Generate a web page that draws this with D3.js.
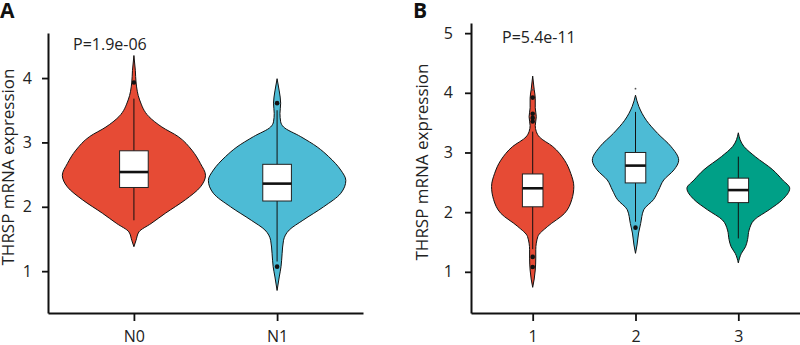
<!DOCTYPE html>
<html>
<head>
<meta charset="utf-8">
<script src="https://cdn.jsdelivr.net/npm/d3@7"></script>
<style>
  body { margin: 0; background: #fff; }
  text { font-family: "Open Sans", sans-serif; fill: #222; }
</style>
</head>
<body>
<div id="chart"></div>
<script>
// ---- data ----
const groupsA = ["N0", "N1"];
const groupsB = ["1", "2", "3"];
const ticksA = [1, 2, 3, 4];
const ticksB = [1, 2, 3, 4, 5];
const pvalA = "P=1.9e-06";
const pvalB = "P=5.4e-11";
const colorsA = ["#E64B35", "#4DBBD5"];
const colorsB = ["#E64B35", "#4DBBD5", "#00A087"];

// violin outlines: [expression, relative density]
const densN0 = [[4.35,0],[4.12,0.02],[3.93,0.03],[3.66,0.08],[3.40,0.21],[3.24,0.39],[3.09,0.62],[2.88,0.81],[2.67,0.93],[2.49,1.0],[2.31,0.93],[2.11,0.72],[1.90,0.44],[1.74,0.24],[1.61,0.07],[1.48,0.03],[1.38,0]];
const densN1 = [[3.99,0],[3.80,0.03],[3.61,0.05],[3.45,0.04],[3.32,0.05],[3.24,0.09],[3.09,0.33],[2.93,0.56],[2.78,0.72],[2.57,0.89],[2.41,0.96],[2.21,0.89],[2.00,0.65],[1.79,0.36],[1.64,0.17],[1.48,0.09],[1.27,0.07],[1.07,0.055],[0.91,0.03],[0.70,0]];
const densB1 = [[4.28,0],[4.05,0.03],[3.91,0.05],[3.75,0.05],[3.60,0.07],[3.45,0.05],[3.35,0.07],[3.26,0.13],[3.10,0.39],[2.87,0.62],[2.65,0.74],[2.43,0.80],[2.21,0.76],[1.98,0.62],[1.76,0.29],[1.59,0.10],[1.37,0.06],[1.23,0.06],[1.03,0.05],[0.88,0.03],[0.74,0]];
const densB2 = [[3.96,0],[3.77,0.065],[3.54,0.21],[3.32,0.43],[3.10,0.69],[2.87,0.84],[2.71,0.75],[2.54,0.55],[2.37,0.45],[2.21,0.35],[2.04,0.16],[1.81,0.10],[1.65,0.06],[1.45,0.03],[1.31,0]];
const densB3 = [[3.33,0],[3.10,0.11],[2.93,0.33],[2.71,0.67],[2.54,0.86],[2.40,1.0],[2.21,0.86],[2.04,0.60],[1.87,0.31],[1.70,0.21],[1.54,0.18],[1.42,0.14],[1.31,0.06],[1.15,0]];

// box stats: [lower whisker, q1, median, q3, upper whisker]
const boxN0 = [1.79, 2.30, 2.54, 2.87, 3.68];
const boxN1 = [1.15, 2.09, 2.36, 2.66, 3.50];
const boxB1 = [1.38, 2.09, 2.40, 2.64, 3.35];
const boxB2 = [1.84, 2.49, 2.78, 3.00, 3.68];
const boxB3 = [1.56, 2.16, 2.37, 2.57, 2.93];

// outlier points
const outN0 = [3.93];
const outN1 = [3.61, 1.07];
const outB1 = [3.92, 3.65, 3.58, 3.52, 1.25, 1.08];
const outB2 = [1.74];
const outB3 = [];
// faint single outliers at the violin tips
const faintB1 = [4.05];
const faintB2 = [4.07];

const W = 800, H = 345;
const svg = d3.select("#chart").append("svg")
    .attr("width", W)
    .attr("height", H);

function drawPanel(opt) {
    const g = svg.append("g");

    const x = d3.scalePoint()
        .domain(opt.groups)
        .range([opt.left, opt.right])
        .padding(0.6);

    const y = d3.scaleLinear()
        .domain(opt.yDomain)
        .range([313, opt.top]);

    const w = d3.scaleLinear()
        .domain([0, 1])
        .range([0, x.step() / 2]);

    const boxHalf = x.step() * 0.1;

    const area = d3.area()
        .y(d => y(d[0]))
        .x0(d => -w(d[1]))
        .x1(d => w(d[1]))
        .curve(d3.curveMonotoneY);

    opt.groups.forEach(function(grp, i) {
        const cx = x(grp);
        const vg = g.append("g").attr("transform", `translate(${cx},0)`);

        // violin
        vg.append("path")
            .datum(opt.dens[i])
            .attr("d", area)
            .attr("fill", opt.colors[i])
            .attr("stroke", "#111")
            .attr("stroke-width", 1);

        const b = opt.box[i];
        // whisker
        vg.append("line")
            .attr("x1", 0).attr("x2", 0)
            .attr("y1", y(b[0])).attr("y2", y(b[4]))
            .attr("stroke", "#111")
            .attr("stroke-width", 1);

        // box
        vg.append("rect")
            .attr("x", -boxHalf)
            .attr("width", boxHalf * 2)
            .attr("y", y(b[3]))
            .attr("height", y(b[1]) - y(b[3]))
            .attr("fill", "#fff")
            .attr("stroke", "#222")
            .attr("stroke-width", 1);

        // median
        vg.append("line")
            .attr("x1", -boxHalf).attr("x2", boxHalf)
            .attr("y1", y(b[2])).attr("y2", y(b[2]))
            .attr("stroke", "#111")
            .attr("stroke-width", 2.6);

        // outliers
        vg.selectAll("circle.out")
            .data(opt.out[i])
            .join("circle")
            .attr("class", "out")
            .attr("cx", 0)
            .attr("cy", d => y(d))
            .attr("r", 2.3)
            .attr("fill", "#111");

        vg.selectAll("circle.faint")
            .data(opt.faint[i])
            .join("circle")
            .attr("class", "faint")
            .attr("cx", 0)
            .attr("cy", d => y(d))
            .attr("r", 0.9)
            .attr("fill", "#555");
    });

    // y axis
    const yAxis = g.append("g")
        .attr("transform", `translate(${opt.left},0)`)
        .call(d3.axisLeft(y).tickValues(opt.ticks).tickFormat(d3.format("d"))
            .tickSize(6).tickSizeOuter(0).tickPadding(opt.tickPad));
    // x axis
    const xAxis = g.append("g")
        .attr("transform", "translate(0,313)")
        .call(d3.axisBottom(x).tickSize(8).tickSizeOuter(0).tickPadding(10));

    [yAxis, xAxis].forEach(function(ax) {
        ax.select(".domain").attr("stroke", "#111").attr("stroke-width", 2);
        ax.selectAll(".tick line").attr("stroke", "#111").attr("stroke-width", 1.8);
        ax.selectAll(".tick text")
            .attr("font-family", null)
            .attr("font-size", null)
            .style("font-family", "'Open Sans', sans-serif")
            .style("font-size", "16px")
            .style("fill", "#222");
    });

    // y title
    g.append("text")
        .attr("transform", `translate(${opt.titleX},${opt.titleY}) rotate(-90)`)
        .attr("text-anchor", "middle")
        .style("font-size", "17px")
        .text("THRSP mRNA expression");

    // p value
    g.append("text")
        .attr("x", opt.pX)
        .attr("y", opt.pY)
        .style("font-size", "16px")
        .text(opt.pval);

    // panel letter
    g.append("text")
        .attr("x", opt.letterX)
        .attr("y", 18)
        .style("font-size", "21px")
        .style("font-weight", "bold")
        .style("fill", "#111")
        .text(opt.letter);
}

drawPanel({
    groups: groupsA, colors: colorsA, ticks: ticksA,
    dens: [densN0, densN1], box: [boxN0, boxN1], out: [outN0, outN1], faint: [[], []],
    left: 48, right: 363, top: 33, yDomain: [0.35, 4.7], tickPad: 10,
    titleX: 14, titleY: 167, pX: 73, pY: 50, pval: pvalA,
    letter: "A", letterX: 0
});

drawPanel({
    groups: groupsB, colors: colorsB, ticks: ticksB,
    dens: [densB1, densB2, densB3], box: [boxB1, boxB2, boxB3], out: [outB1, outB2, outB3],
    faint: [faintB1, faintB2, []],
    left: 471, right: 800, top: 23, yDomain: [0.31, 5.17], tickPad: 12,
    titleX: 428, titleY: 162, pX: 502, pY: 43, pval: pvalB,
    letter: "B", letterX: 413
});
</script>
</body>
</html>
